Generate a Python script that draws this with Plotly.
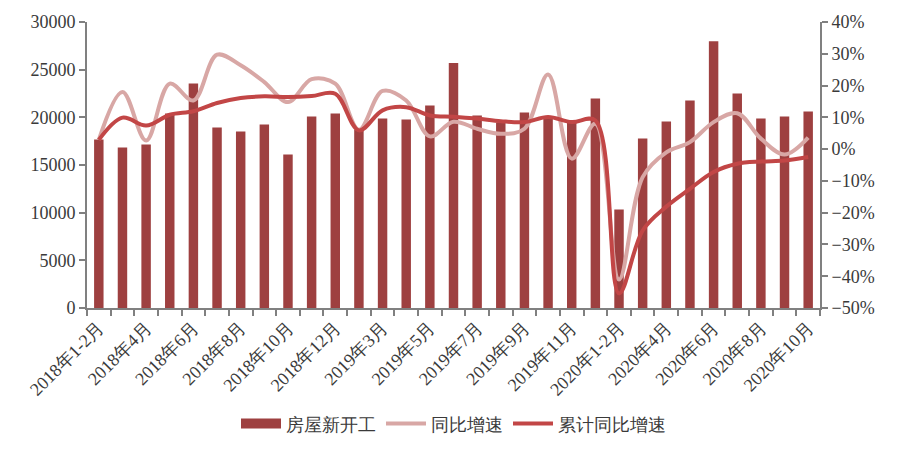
import plotly.graph_objects as go

categories = (
    ["2018年1-2月"] + [f"2018年{m}月" for m in range(3, 13)]
    + ["2019年1-2月"] + [f"2019年{m}月" for m in range(3, 13)]
    + ["2020年1-2月"] + [f"2020年{m}月" for m in range(3, 11)]
)

new_starts = [17680, 16840, 17150, 20400, 23560, 18940, 18520, 19250, 16100, 20090, 20400,
              18700, 19880, 19780, 21250, 25690, 20200, 19450, 20520, 20000, 19400, 21980,
              10330, 17780, 19570, 21770, 27970, 22500, 19880, 20090, 20620]

yoy = [2.9, 18.0, 2.7, 20.6, 15.3, 29.7, 26.4, 21.1, 14.8, 22.0, 20.6,
       6.1, 18.3, 15.3, 4.0, 8.6, 6.4, 4.8, 6.4, 23.5, -3.0, 8.0,
       -41.0, -8.8, -1.0, 2.2, 8.5, 11.3, 3.3, -1.7, 3.6]

cum_yoy = [2.9, 9.9, 7.4, 10.8, 11.9, 14.5, 16.1, 16.6, 16.4, 16.7, 17.4,
           5.9, 12.2, 13.2, 10.6, 10.2, 9.6, 8.8, 8.5, 10.1, 8.5, 9.0,
           -45.4, -25.6, -18.1, -12.5, -7.2, -4.6, -3.9, -3.6, -2.5]

tick_text = [c if i % 2 == 0 else "" for i, c in enumerate(categories)]

FONT = "Liberation Serif"
FS = 18
AXIS_COLOR = "#808080"
TEXT_COLOR = "#3a3a3a"
BAR_COLOR = "#9E4040"

fig = go.Figure()
fig.add_trace(go.Bar(
    x=categories, y=new_starts, name="房屋新开工",
    marker=dict(color=BAR_COLOR, line=dict(width=0)),
    yaxis="y", showlegend=False,
))
# legend entry for the bars, drawn as a wide block like the original
fig.add_trace(go.Scatter(
    x=[None], y=[None], name="房屋新开工", mode="lines",
    line=dict(color=BAR_COLOR, width=12), yaxis="y", showlegend=True,
))
fig.add_trace(go.Scatter(
    x=categories, y=yoy, name="同比增速", mode="lines",
    line=dict(color="#D8A7A5", width=4, shape="spline", smoothing=1.0),
    yaxis="y2",
))
fig.add_trace(go.Scatter(
    x=categories, y=cum_yoy, name="累计同比增速", mode="lines",
    line=dict(color="#C24646", width=4, shape="spline", smoothing=1.0),
    yaxis="y2",
))

fig.update_layout(
    width=908, height=454,
    margin=dict(l=79, r=96, t=14, b=154, autoexpand=False),
    paper_bgcolor="white", plot_bgcolor="white",
    font=dict(family=FONT, size=FS, color=TEXT_COLOR),
    bargap=0.6,
    showlegend=True,
    legend=dict(orientation="h", x=0.5, xanchor="center", y=-0.405, yanchor="middle",
                font=dict(family=FONT, size=FS, color=TEXT_COLOR), itemwidth=40, tracegroupgap=0),
    xaxis=dict(
        type="category", tickmode="array", tickvals=categories, ticktext=tick_text,
        tickangle=-45, tickson="boundaries", ticks="outside", ticklen=6,
        tickcolor=AXIS_COLOR, tickwidth=2,
        showline=True, linecolor=AXIS_COLOR, linewidth=2, showgrid=False,
        tickfont=dict(family=FONT, size=FS, color=TEXT_COLOR),
    ),
    yaxis=dict(
        range=[0, 30000], tickmode="linear", tick0=0, dtick=5000,
        ticks="outside", ticklen=6, tickcolor=AXIS_COLOR, tickwidth=2,
        showline=True, linecolor=AXIS_COLOR, linewidth=2, showgrid=False,
        zeroline=False, tickformat="d",
        tickfont=dict(family=FONT, size=FS, color=TEXT_COLOR),
    ),
    yaxis2=dict(
        range=[-50, 40], tickmode="linear", tick0=-50, dtick=10, ticksuffix="%",
        overlaying="y", side="right",
        ticks="outside", ticklen=6, tickcolor=AXIS_COLOR, tickwidth=2,
        showline=True, linecolor=AXIS_COLOR, linewidth=2, showgrid=False,
        zeroline=False,
        tickfont=dict(family=FONT, size=FS, color=TEXT_COLOR),
    ),
)

fig.write_html("out.html")
